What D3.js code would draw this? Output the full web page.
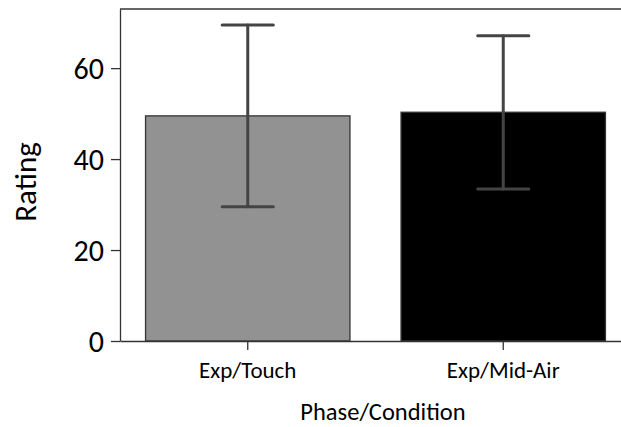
<!DOCTYPE html>
<html>
<head>
<meta charset="utf-8">
<script src="https://cdn.jsdelivr.net/npm/d3@7"></script>
<style>
  body { margin: 0; background: #fff; }
  text { font-family: Carlito, Lato, "Noto Sans", sans-serif; fill: #000; }
</style>
</head>
<body>
<div id="chart"></div>
<script>
// chart values
var categories = ["Exp/Touch", "Exp/Mid-Air"];
var means = [49.5, 50.3];
var ciLow = [29.5, 33.4];
var ciHigh = [69.5, 67.1];
var yTicks = [0, 20, 40, 60];

var width = 621, height = 427;
var plotLeft = 120, plotTop = 9, plotBottom = 341, plotRight = 631;

var svg = d3.select("#chart").append("svg")
	.attr("width", width)
	.attr("height", height);

var x = d3.scaleBand()
	.domain(categories)
	.range([plotLeft, plotRight])
	.paddingInner(0.2)
	.paddingOuter(0.1);

var y = d3.scaleLinear()
	.domain([0, 73])
	.range([plotBottom, plotTop]);

var fill = d3.scaleOrdinal()
	.domain(categories)
	.range(["#929292", "#000000"]);

var rows = categories.map(function (c, i) {
	return {cat: c, mean: means[i], lo: ciLow[i], hi: ciHigh[i]};
});

// bars
svg.append("g").selectAll("rect")
	.data(rows).enter()
	.append("rect")
	.attr("x", function (d) { return x(d.cat); })
	.attr("y", function (d) { return y(d.mean); })
	.attr("width", x.bandwidth())
	.attr("height", function (d) { return y(0) - y(d.mean); })
	.attr("fill", function (d) { return fill(d.cat); })
	.attr("stroke", "#333")
	.attr("stroke-width", 1.3);

// error bars
var step = x.step();
var cap = step * 0.1;
var err = svg.append("g")
	.attr("stroke", "#444")
	.attr("stroke-width", 3)
	.attr("stroke-linecap", "round");

rows.forEach(function (d) {
	var cx = x(d.cat) + x.bandwidth() / 2;
	err.append("line")
		.attr("x1", cx).attr("x2", cx)
		.attr("y1", y(d.lo)).attr("y2", y(d.hi));
	err.append("line")
		.attr("x1", cx - cap).attr("x2", cx + cap)
		.attr("y1", y(d.lo)).attr("y2", y(d.lo));
	err.append("line")
		.attr("x1", cx - cap).attr("x2", cx + cap)
		.attr("y1", y(d.hi)).attr("y2", y(d.hi));
});

// top spine
svg.append("line")
	.attr("x1", plotLeft).attr("x2", plotRight)
	.attr("y1", plotTop).attr("y2", plotTop)
	.attr("stroke", "#333").attr("stroke-width", 1.3);

// axes
var yAxis = svg.append("g")
	.attr("transform", "translate(" + plotLeft + ",0)")
	.call(d3.axisLeft(y).tickValues(yTicks).tickSize(9).tickPadding(7).tickSizeOuter(0));
yAxis.select(".domain").attr("stroke", "#333").attr("stroke-width", 1.3);
yAxis.selectAll(".tick line").attr("stroke", "#333").attr("stroke-width", 1.3);
yAxis.selectAll(".tick text").style("font-size", "30px").attr("dy", "0.36em");

var xAxis = svg.append("g")
	.attr("transform", "translate(0," + plotBottom + ")")
	.call(d3.axisBottom(x).tickSize(9).tickPadding(12).tickSizeOuter(0));
xAxis.select(".domain").attr("stroke", "#333").attr("stroke-width", 1.3);
xAxis.selectAll(".tick line").attr("stroke", "#333").attr("stroke-width", 1.3);
xAxis.selectAll(".tick text").style("font-size", "23px");

// axis titles
svg.append("text")
	.attr("transform", "translate(36,182) rotate(-90)")
	.attr("text-anchor", "middle")
	.style("font-size", "31px")
	.text("Rating");

svg.append("text")
	.attr("x", 383)
	.attr("y", 420)
	.attr("text-anchor", "middle")
	.style("font-size", "24.5px")
	.text("Phase/Condition");
</script>
</body>
</html>
